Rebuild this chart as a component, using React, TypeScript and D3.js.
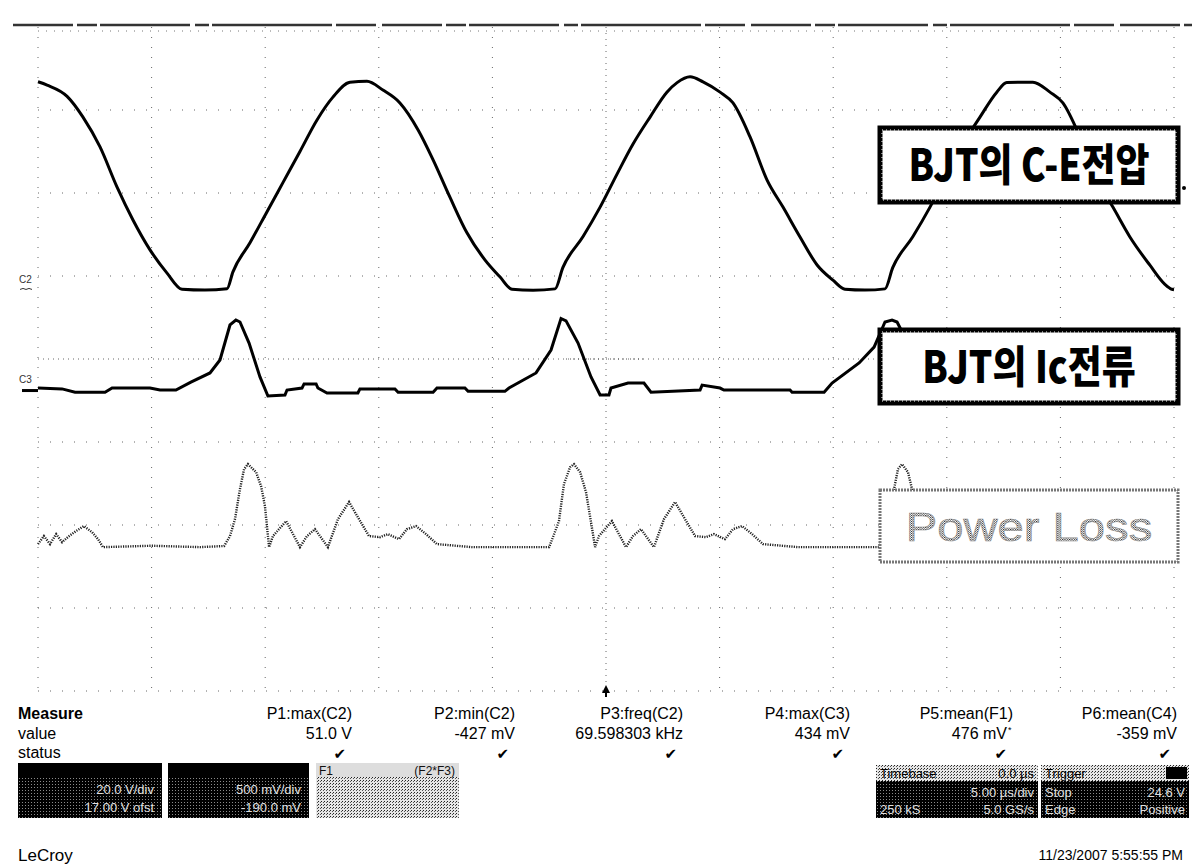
import React from "react";
import * as d3 from "d3";

const W = 1192;
const H = 864;

// Graticule: 10 x 8 divisions
const X0 = 38;
const X1 = 1174;
const Y0 = 27;
const Y1 = 691;
const H_DIVS = 10;
const V_DIVS = 8;

// Timebase: 5 µs/div, trigger at centre (µs)
const TIME_DOMAIN: [number, number] = [-25, 25];

// Channel vertical settings [per-div, offset]
const C2_SETUP = { perDiv: 20, offset: 17 }; // V
const C3_SETUP = { perDiv: 0.5, offset: -0.19 }; // V
const F1_SETUP = { perDiv: 3, offset: -6.8 }; // F2*F3

// C2: collector-emitter voltage [µs, V]
const c2Trace: [number, number][] = [
  [-25.0, 49.8], [-24.6, 49.0], [-23.72, 46.3], [-23.02, 41.3], [-22.27, 34.1],
  [-21.52, 24.4], [-20.82, 16.5], [-20.07, 9.3], [-19.32, 3.7], [-18.66, -0.2],
  [-17.65, -0.4], [-16.68, -0.1], [-16.42, 4.0], [-15.67, 11.0], [-14.92, 18.5],
  [-14.22, 25.5], [-13.47, 33.0], [-12.72, 40.6], [-12.02, 46.1], [-11.27, 49.7],
  [-10.52, 49.9], [-9.82, 47.8], [-9.07, 44.7], [-8.27, 38.2], [-7.61, 31.0],
  [-6.87, 22.0], [-6.12, 13.4], [-5.33, 6.9], [-4.67, 2.8], [-4.14, -0.2],
  [-3.21, -0.427], [-2.24, -0.1], [-1.9, 5.0], [-1.01, 12.5], [-0.26, 19.6],
  [0.48, 27.5], [1.19, 34.8], [1.94, 41.3], [2.68, 47.3], [3.13, 49.6],
  [3.7, 51.0], [4.27, 49.8], [5.02, 47.3], [5.59, 44.7], [6.34, 36.5],
  [7.09, 26.1], [7.79, 19.6], [8.54, 12.4], [9.3, 5.6], [9.99, 2.0],
  [10.52, -0.2], [11.4, -0.4], [12.28, -0.1], [12.62, 5.0], [13.51, 12.5],
  [14.26, 19.6], [15.01, 27.5], [15.71, 34.8], [16.46, 41.3], [17.2, 47.3],
  [17.64, 49.6], [18.79, 49.7], [19.54, 47.3], [20.11, 44.7], [20.86, 36.5],
  [21.61, 26.1], [22.31, 19.6], [23.06, 12.4], [23.94, 5.6], [24.6, 1.0],
  [24.91, -0.2], [25.0, -0.3],
];

// C3: collector current probe [µs, V]
const c3Trace: [number, number][] = [
  [-25.0, 0.015], [-23.94, 0.01], [-23.37, -0.01], [-22.05, -0.01], [-21.74, 0.015],
  [-20.07, 0.015], [-19.63, 0.003], [-18.93, 0.003], [-18.27, 0.051], [-17.43, 0.106],
  [-16.99, 0.184], [-16.55, 0.395], [-16.29, 0.425], [-16.11, 0.413], [-15.71, 0.286],
  [-15.23, 0.082], [-14.88, -0.033], [-14.13, -0.027], [-14.04, 0.003], [-13.38, 0.015],
  [-13.29, 0.04], [-12.76, 0.04], [-12.68, 0.015], [-12.28, -0.015], [-10.92, -0.015],
  [-10.83, 0.01], [-9.29, 0.01], [-9.15, -0.01], [-7.61, -0.01], [-7.44, 0.015],
  [-6.21, 0.015], [-6.07, -0.005], [-4.45, -0.005], [-4.27, 0.015], [-3.08, 0.106],
  [-2.42, 0.244], [-1.98, 0.434], [-1.76, 0.42], [-1.23, 0.286], [-0.66, 0.082],
  [-0.26, -0.027], [0.13, -0.027], [0.22, 0.015], [0.97, 0.045], [1.67, 0.045],
  [1.98, -0.01], [4.14, 0.003], [4.23, 0.033], [5.02, 0.015], [5.19, 0.003],
  [8.1, 0.003], [8.19, -0.01], [9.6, -0.01], [9.95, 0.045], [11.14, 0.166],
  [11.8, 0.262], [12.28, 0.413], [12.59, 0.425], [12.81, 0.413], [13.29, 0.286],
  [13.82, 0.082], [14.17, -0.033], [14.92, -0.027], [15.05, 0.003], [17.34, 0.003],
  [19.98, -0.01], [22.62, 0.01], [25.0, 0.003],
];

// F1 = F2*F3: switching power loss [µs, product units]
const f1Trace: [number, number][] = [
  [-25.0, 0.11], [-24.74, 0.4], [-24.47, 0.11], [-24.2, 0.47], [-23.94, 0.18],
  [-23.63, 0.4], [-23.33, 0.58], [-22.98, 0.76], [-22.62, 0.54], [-22.36, 0.29],
  [-22.14, 0.0], [-20.0, 0.05], [-17.87, 0.0], [-16.81, 0.04], [-16.55, 0.4],
  [-16.33, 1.01], [-16.11, 2.1], [-15.93, 2.82], [-15.76, 3.0], [-15.4, 2.71],
  [-15.18, 2.2], [-15.01, 1.48], [-14.83, 0.0], [-14.66, 0.4], [-14.08, 0.94],
  [-13.47, 0.0], [-13.16, 0.4], [-12.81, 0.65], [-12.24, 0.0], [-11.8, 1.01],
  [-11.31, 1.63], [-10.87, 1.01], [-10.43, 0.4], [-9.95, 0.36], [-9.6, 0.47],
  [-9.11, 0.29], [-8.76, 0.65], [-8.36, 0.76], [-7.92, 0.47], [-7.44, 0.11],
  [-5.9, 0.0], [-2.5, 0.0], [-2.07, 0.94], [-1.85, 2.28], [-1.58, 2.89],
  [-1.41, 3.0], [-1.14, 2.71], [-0.88, 1.99], [-0.66, 0.9], [-0.48, 0.0],
  [-0.31, 0.4], [0.26, 0.94], [0.88, 0.0], [1.19, 0.4], [1.54, 0.65],
  [2.11, 0.0], [2.55, 1.01], [3.04, 1.63], [3.48, 1.01], [3.92, 0.4],
  [4.4, 0.36], [4.75, 0.47], [5.24, 0.29], [5.59, 0.65], [5.99, 0.76],
  [6.43, 0.47], [6.91, 0.11], [8.45, 0.0], [12.0, 0.0], [12.19, 0.4],
  [12.46, 1.01], [12.68, 2.1], [12.85, 2.82], [13.03, 3.0], [13.29, 2.71],
  [13.47, 2.1], [13.78, 1.01], [13.95, 0.0], [14.26, 0.4], [14.83, 0.94],
  [15.45, 0.0], [16.15, 0.65], [16.72, 0.0], [17.64, 1.63], [18.52, 0.4],
  [19.67, 0.65], [20.55, 0.11], [25.0, 0.0],
];

// Measurement panel
const measureLabels = ["P1:max(C2)", "P2:min(C2)", "P3:freq(C2)", "P4:max(C3)", "P5:mean(F1)", "P6:mean(C4)"];
const measureValues = ["51.0 V", "-427 mV", "69.598303 kHz", "434 mV", "476 mV", "-359 mV"];
const measureRight = [352, 515, 683, 850, 1013, 1177];

// Channel descriptor boxes
const channelNames = ["C2", "C3"];
const channelScaleText = ["20.0 V/div", "500 mV/div"];
const channelOffsetText = ["17.00 V ofst", "-190.0 mV"];

// Annotation boxes on the right
const annotations = [
  { text: "BJT의 C-E전압", y: 128, h: 74, kind: "bold" },
  { text: "BJT의 Ic전류", y: 330, h: 73, kind: "bold" },
  { text: "Power Loss", y: 490, h: 72, kind: "gray" },
];

function channelScale(perDiv: number, offset: number) {
  const off = offset / perDiv;
  return d3
    .scaleLinear()
    .domain([(-V_DIVS / 2 - off) * perDiv, (V_DIVS / 2 - off) * perDiv])
    .range([Y1, Y0]);
}

const SANS = "'Liberation Sans', Arial, sans-serif";
const KR = "'Noto Sans CJK KR', 'Noto Sans', sans-serif";

export default function App() {
  const x = d3.scaleLinear().domain(TIME_DOMAIN).range([X0, X1]);
  const yC2 = channelScale(C2_SETUP.perDiv, C2_SETUP.offset);
  const yC3 = channelScale(C3_SETUP.perDiv, C3_SETUP.offset);
  const yF1 = channelScale(F1_SETUP.perDiv, F1_SETUP.offset);

  const lineC2 = d3
    .line<[number, number]>()
    .x((d) => x(d[0]))
    .y((d) => yC2(d[1]))
    .curve(d3.curveMonotoneX);
  const lineC3 = d3
    .line<[number, number]>()
    .x((d) => x(d[0]))
    .y((d) => yC3(d[1]));
  const lineF1 = d3
    .line<[number, number]>()
    .x((d) => x(d[0]))
    .y((d) => yF1(d[1]));

  const divW = (X1 - X0) / H_DIVS;
  const divH = (Y1 - Y0) / V_DIVS;
  const vLines = d3.range(H_DIVS + 1).map((i) => X0 + i * divW);
  const hLines = d3.range(V_DIVS + 1).map((i) => Y0 + i * divH);
  const xMid = X0 + (H_DIVS / 2) * divW;
  const yMid = Y0 + (V_DIVS / 2) * divH;

  const annX = 880;
  const annW = 298;

  return (
    <svg
      width={W}
      height={H}
      viewBox={`0 0 ${W} ${H}`}
      style={{ position: "absolute", left: 0, top: 0, background: "#fff" }}
    >
      <defs>
        <pattern id="htDark" width="3" height="3" patternUnits="userSpaceOnUse">
          <rect width="3" height="3" fill="#000" />
          <rect x="1" y="1" width="1" height="1" fill="#8a8a8a" />
        </pattern>
        <pattern id="htLight" width="3" height="3" patternUnits="userSpaceOnUse">
          <rect width="3" height="3" fill="#e6e6e6" />
          <rect x="0" y="0" width="1" height="1" fill="#222" />
          <rect x="2" y="1" width="1" height="1" fill="#555" />
        </pattern>
        <pattern id="htMid" width="2" height="2" patternUnits="userSpaceOnUse">
          <rect width="2" height="2" fill="#fff" />
          <rect x="0" y="0" width="1" height="1" fill="#333" />
          <rect x="1" y="1" width="1" height="1" fill="#777" />
        </pattern>
      </defs>
      <rect width={W} height={H} fill="#fff" />

      {/* graticule */}
      <g stroke="#666" strokeWidth={1}>
        {vLines.map((vx, i) => (
          <line
            key={`v${i}`}
            x1={vx}
            x2={vx}
            y1={Y0}
            y2={Y1}
            strokeDasharray={i === H_DIVS / 2 ? "1 5" : "1 9"}
          />
        ))}
        {hLines.map((hy, i) =>
          i === 0 ? null : (
            <line
              key={`h${i}`}
              x1={X0}
              x2={X1}
              y1={hy}
              y2={hy}
              strokeDasharray={i === V_DIVS / 2 ? "1 4" : "1 11"}
            />
          )
        )}
      </g>
      {/* top edge */}
      <line
        x1={13}
        x2={W}
        y1={Y0 - 2}
        y2={Y0 - 2}
        stroke="#333"
        strokeWidth={2.5}
        strokeDasharray="60 4 20 3 90 5 14 3 120 4 40 6"
      />
      <line x1={X0} x2={X1} y1={Y0 + 4} y2={Y0 + 4} stroke="#777" strokeWidth={1} strokeDasharray="1 7" />
      <line x1={xMid - 40} x2={xMid + 40} y1={yMid} y2={yMid} stroke="#555" strokeDasharray="1 3" />

      {/* channel ground markers */}
      <g fontFamily={SANS} fontSize={10} fill="#333">
        <text x={19} y={yC2(0) - 5}>C2</text>
        <path d={`M20 ${yC2(0) + 1} l3 -1 l3 1 l3 -1 l3 1`} stroke="#333" fill="none" />
        <text x={19} y={yC3(0) - 8}>C3</text>
        <line x1={22} x2={X0} y1={yC3(0)} y2={yC3(0)} stroke="#000" strokeWidth={3} />
      </g>

      {/* traces */}
      <path d={lineF1(f1Trace) || ""} fill="none" stroke="#222" strokeWidth={2.4} strokeDasharray="1.2 1.2" />
      <path d={lineC3(c3Trace) || ""} fill="none" stroke="#000" strokeWidth={3} strokeLinejoin="miter" />
      <path d={lineC2(c2Trace) || ""} fill="none" stroke="#000" strokeWidth={3} />

      {/* trigger position marker */}
      <path d={`M${xMid} ${Y1 - 6} l-4 8 l3 0 l0 4 l2 0 l0 -4 l3 0 z`} fill="#000" />

      {/* annotation boxes */}
      {annotations.map((a, i) => {
        const cx = annX + annW / 2;
        return a.kind === "bold" ? (
          <g key={i}>
            <rect x={annX} y={a.y} width={annW} height={a.h} fill="#fff" stroke="#000" strokeWidth={5} />
            <rect
              x={annX + 2}
              y={a.y + 2}
              width={annW - 4}
              height={a.h - 4}
              fill="none"
              stroke="#fff"
              strokeWidth={1}
              strokeDasharray="1 3"
            />
            <g transform={`translate(${cx},${a.y + a.h / 2 + 16}) scale(0.84,1)`}>
              <text x={0} y={0} textAnchor="middle" fontFamily={KR} fontWeight={900} fontSize={44} fill="#000">
                {a.text}
              </text>
            </g>
          </g>
        ) : (
          <g key={i}>
            <rect
              x={annX}
              y={a.y}
              width={annW}
              height={a.h}
              fill="#fff"
              stroke="#777"
              strokeWidth={3}
              strokeDasharray="2 1"
            />
            <g transform={`translate(${cx},${a.y + a.h / 2 + 15}) scale(1.18,1)`}>
              <text
                x={0}
                y={0}
                textAnchor="middle"
                fontFamily={SANS}
                fontSize={40}
                fill="url(#htMid)"
                stroke="#888"
                strokeWidth={0.6}
              >
                {a.text}
              </text>
            </g>
          </g>
        );
      })}
      <circle cx={1184} cy={188} r={2} fill="#000" />

      {/* measurement table */}
      <g fontFamily={SANS} fontSize={16} fill="#000">
        <text x={18} y={719} fontWeight="bold">Measure</text>
        <text x={18} y={739}>value</text>
        <text x={18} y={758}>status</text>
        {measureLabels.map((m, i) => (
          <text key={`l${i}`} x={measureRight[i]} y={719} textAnchor="end">{m}</text>
        ))}
        {measureValues.map((v, i) => (
          <text key={`v${i}`} x={measureRight[i] - (i === 4 ? 6 : 0)} y={739} textAnchor="end">
            {v}
          </text>
        ))}
        <text x={measureRight[4] - 5} y={733} fontSize={9}>*</text>
        {measureRight.map((r, i) => (
          <text key={`c${i}`} x={r - 6} y={759} textAnchor="end" fontFamily="'DejaVu Sans'" fontSize={15}>
            ✔
          </text>
        ))}
      </g>

      {/* channel descriptor boxes */}
      {channelNames.map((c, i) => {
        const bx = i === 0 ? 18 : 168;
        const bw = i === 0 ? 144 : 141;
        return (
          <g key={c}>
            <rect x={bx} y={763} width={bw} height={55} fill="url(#htDark)" />
            <rect x={bx} y={763} width={bw} height={14} fill="#000" />
            <g fontFamily={SANS} fontSize={13} fill="#e0e0e0" textAnchor="end">
              <text x={bx + bw - 8} y={794}>{channelScaleText[i]}</text>
              <text x={bx + bw - 8} y={812}>{channelOffsetText[i]}</text>
            </g>
          </g>
        );
      })}
      <g>
        <rect x={316} y={763} width={143} height={55} fill="url(#htLight)" />
        <rect x={316} y={763} width={143} height={14} fill="#ddd" />
        <g fontFamily={SANS} fontSize={12} fill="#111">
          <text x={319} y={775}>F1</text>
          <text x={455} y={775} textAnchor="end">(F2*F3)</text>
        </g>
      </g>

      {/* timebase box */}
      <g fontFamily={SANS} fontSize={13}>
        <rect x={876} y={765} width={162} height={53} fill="url(#htDark)" />
        <rect x={876} y={765} width={162} height={16} fill="url(#htLight)" />
        <text x={880} y={778} fill="#000">Timebase</text>
        <text x={1034} y={778} fill="#000" textAnchor="end">0.0 µs</text>
        <text x={1034} y={797} fill="#e0e0e0" textAnchor="end">5.00 µs/div</text>
        <text x={880} y={814} fill="#e0e0e0">250 kS</text>
        <text x={1034} y={814} fill="#e0e0e0" textAnchor="end">5.0 GS/s</text>
      </g>
      {/* trigger box */}
      <g fontFamily={SANS} fontSize={13}>
        <rect x={1041} y={765} width={148} height={53} fill="url(#htDark)" />
        <rect x={1041} y={765} width={148} height={16} fill="url(#htLight)" />
        <rect x={1166} y={767} width={21} height={12} fill="#000" />
        <text x={1045} y={778} fill="#000">Trigger</text>
        <text x={1045} y={797} fill="#e0e0e0">Stop</text>
        <text x={1185} y={797} fill="#e0e0e0" textAnchor="end">24.6 V</text>
        <text x={1045} y={814} fill="#e0e0e0">Edge</text>
        <text x={1185} y={814} fill="#e0e0e0" textAnchor="end">Positive</text>
      </g>

      <text x={18} y={861} fontFamily={SANS} fontSize={17} fill="#000">LeCroy</text>
      <text x={1183} y={860} fontFamily={SANS} fontSize={14} fill="#000" textAnchor="end">
        11/23/2007 5:55:55 PM
      </text>
    </svg>
  );
}
